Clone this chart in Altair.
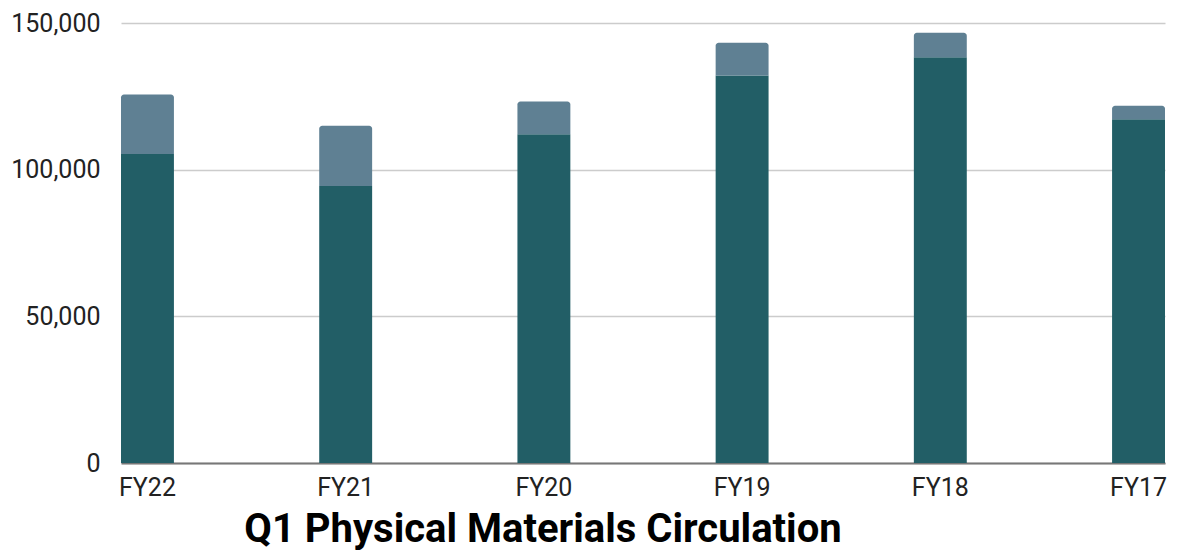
import altair as alt
import pandas as pd

categories = ["FY22", "FY21", "FY20", "FY19", "FY18", "FY17"]
base_values = [105300, 94400, 112100, 132100, 138300, 117200]
top_values = [20300, 20600, 11100, 11200, 8400, 4600]
y_ticks = [0, 50000, 100000, 150000]

df = pd.DataFrame({"year": categories, "base": base_values, "top": top_values})
df["total"] = df["base"] + df["top"]

FONT = "Roboto"

x_scale = alt.Scale(paddingInner=0.733, paddingOuter=0)
y_scale = alt.Scale(domain=[0, 150000], nice=False)


def x_axis():
    return alt.Axis(labelAngle=0, labelFontSize=25, labelFont=FONT, labelColor="#222222",
                    ticks=False, domain=True, domainColor="#777777", domainWidth=2,
                    labelPadding=12, grid=False)


def y_axis():
    return alt.Axis(values=y_ticks, labelExpr="datum.value == 0 ? '0' : toString(datum.value / 1000) + ',000'",
                    labelFontSize=25, labelFont=FONT, labelColor="#222222", ticks=False,
                    domain=False, labelPadding=21, gridColor="#cccccc", gridWidth=1.5)


base = alt.Chart(df).mark_bar(color="#225E66").encode(
    x=alt.X("year:N", sort=categories, title=None, scale=x_scale, axis=x_axis()),
    y=alt.Y("base:Q", scale=y_scale, title=None, axis=y_axis()),
)

top = alt.Chart(df).mark_bar(color="#5F8093", cornerRadiusTopLeft=3, cornerRadiusTopRight=3).encode(
    x=alt.X("year:N", sort=categories, title=None, scale=x_scale, axis=x_axis()),
    y=alt.Y("base:Q", scale=y_scale, title=None, axis=y_axis()),
    y2="total:Q",
)

chart = alt.layer(base, top).properties(
    width=1044,
    height=440,
    autosize=alt.AutoSizeParams(type="none"),
    padding={"left": 113, "top": 15, "right": 5, "bottom": 92},
    title=alt.TitleParams("Q1 Physical Materials Circulation", orient="bottom", anchor="middle",
                          font=FONT, fontSize=40, fontWeight="bold", color="#000000",
                          offset=10, dx=-100),
).configure_view(stroke=None)

chart.save("out.html", embed_options={"renderer": "svg", "actions": False})
